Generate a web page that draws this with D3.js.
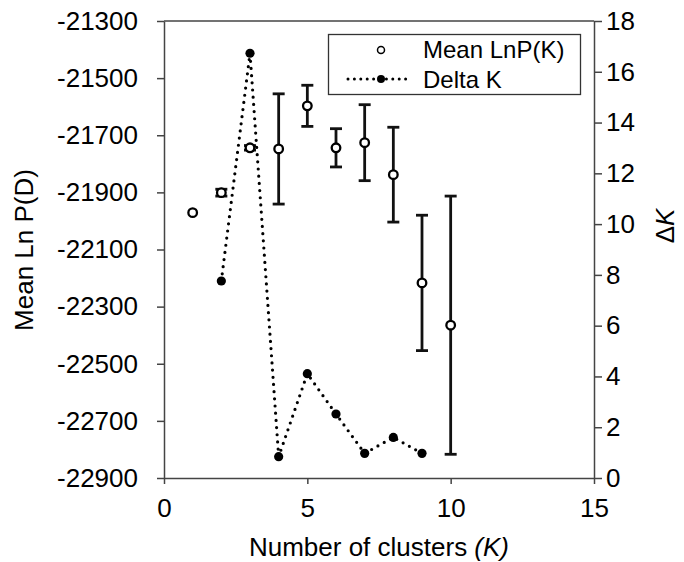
<!DOCTYPE html>
<html>
<head>
<meta charset="utf-8">
<script src="https://cdn.jsdelivr.net/npm/d3@7"></script>
<style>
  body { margin: 0; background: #fff; }
  svg { font-family: "Liberation Sans", Arial, sans-serif; }
</style>
</head>
<body>
<svg id="chart" width="684" height="562"></svg>
<script>
// values
const clusters = [1, 2, 3, 4, 5, 6, 7, 8, 9, 10];
const meanLnP = [-21971, -21901, -21744, -21748, -21597, -21744, -21726, -21838, -22217, -22365];
const sdLnP = [0, 12, 8, 193, 72, 67, 133, 166, 237, 452];
const deltaK_clusters = [2, 3, 4, 5, 6, 7, 8, 9];
const deltaK = [7.76, 16.73, 0.84, 4.11, 2.52, 0.97, 1.6, 0.97];

const xTicks = [0, 5, 10, 15];
const leftTicks = [-21300, -21500, -21700, -21900, -22100, -22300, -22500, -22700, -22900];
const rightTicks = [0, 2, 4, 6, 8, 10, 12, 14, 16, 18];

class ClusterChart {
  constructor(_config) {
    this.config = {
      parentElement: _config.parentElement,
      margin: { top: 21, right: 90, bottom: 84, left: 164 },
      width: 684,
      height: 562
    };
    this.initVis();
  }

  initVis() {
    let vis = this;
    const m = vis.config.margin;
    vis.svg = d3.select(vis.config.parentElement);
    vis.innerW = vis.config.width - m.left - m.right;   // 430
    vis.innerH = vis.config.height - m.top - m.bottom;  // 457

    vis.x = d3.scaleLinear().domain([0, 15]).range([0, vis.innerW]);
    vis.yL = d3.scaleLinear().domain([-22900, -21300]).range([vis.innerH, 0]);
    vis.yR = d3.scaleLinear().domain([0, 18]).range([vis.innerH, 0]);

    vis.g = vis.svg.append('g').attr('transform', `translate(${m.left},${m.top})`);

    // frame top line
    vis.g.append('line')
      .attr('x1', 0).attr('x2', vis.innerW)
      .attr('y1', 0).attr('y2', 0)
      .attr('stroke', '#444').attr('stroke-width', 1.5);

    // axes
    vis.xAxisG = vis.g.append('g').attr('transform', `translate(0,${vis.innerH})`)
      .call(d3.axisBottom(vis.x).tickValues(xTicks).tickSize(6).tickSizeOuter(0).tickPadding(8));
    vis.yLAxisG = vis.g.append('g')
      .call(d3.axisLeft(vis.yL).tickValues(leftTicks).tickSize(7).tickSizeOuter(0).tickPadding(19)
        .tickFormat(d => String(d)));   // plain hyphen, not the unicode minus
    vis.yRAxisG = vis.g.append('g').attr('transform', `translate(${vis.innerW},0)`)
      .call(d3.axisRight(vis.yR).tickValues(rightTicks).tickSize(8).tickSizeOuter(0).tickPadding(4));

    vis.g.selectAll('.domain, .tick line')
      .attr('stroke', '#444').attr('stroke-width', 1.5);
    vis.g.selectAll('.tick text')
      .attr('font-size', 26).attr('fill', '#000')
      .style('font-family', '"Liberation Sans", Arial, sans-serif');
    vis.xAxisG.selectAll('.tick text').attr('dy', '0.95em');

    // axis titles
    const xt = vis.svg.append('text')
      .attr('x', m.left + vis.innerW / 2).attr('y', 556)
      .attr('text-anchor', 'middle').attr('font-size', 26);
    xt.append('tspan').text('Number of clusters ');
    xt.append('tspan').attr('font-style', 'italic').text('(K)');

    vis.svg.append('text')
      .attr('transform', 'translate(24,250) rotate(-90)')
      .attr('text-anchor', 'middle').attr('dy', '0.35em')
      .attr('font-size', 26)
      .text('Mean Ln P(D)');

    const rt = vis.svg.append('text')
      .attr('transform', 'translate(665,226) rotate(-90)')
      .attr('text-anchor', 'middle').attr('dy', '0.35em')
      .attr('font-size', 26);
    rt.append('tspan').text('\u0394');
    rt.append('tspan').attr('font-style', 'italic').text('K');

    vis.renderVis();
    vis.renderLegend();
  }

  renderVis() {
    let vis = this;
    const meanData = clusters.map((k, i) => ({ k: k, mean: meanLnP[i], sd: sdLnP[i] }));
    const deltaData = deltaK_clusters.map((k, i) => ({ k: k, dk: deltaK[i] }));

    // error bars
    const bars = vis.g.append('g').attr('stroke', '#111').attr('stroke-width', 2.8)
      .selectAll('g').data(meanData.filter(d => d.sd > 0)).join('g');
    bars.append('line')
      .attr('x1', d => vis.x(d.k)).attr('x2', d => vis.x(d.k))
      .attr('y1', d => vis.yL(d.mean + d.sd)).attr('y2', d => vis.yL(d.mean - d.sd));
    bars.append('line')
      .attr('x1', d => vis.x(d.k) - 6).attr('x2', d => vis.x(d.k) + 6)
      .attr('y1', d => vis.yL(d.mean + d.sd)).attr('y2', d => vis.yL(d.mean + d.sd));
    bars.append('line')
      .attr('x1', d => vis.x(d.k) - 6).attr('x2', d => vis.x(d.k) + 6)
      .attr('y1', d => vis.yL(d.mean - d.sd)).attr('y2', d => vis.yL(d.mean - d.sd));

    // open circles
    vis.g.append('g').selectAll('circle').data(meanData).join('circle')
      .attr('cx', d => vis.x(d.k)).attr('cy', d => vis.yL(d.mean))
      .attr('r', 4.3)
      .attr('fill', '#fff').attr('stroke', '#000').attr('stroke-width', 2.3);

    // delta K dotted line
    const line = d3.line().x(d => vis.x(d.k)).y(d => vis.yR(d.dk));
    vis.g.append('path').datum(deltaData)
      .attr('d', line)
      .attr('fill', 'none').attr('stroke', '#000')
      .attr('stroke-width', 3.2).attr('stroke-linecap', 'round')
      .attr('stroke-dasharray', '0,7.2');

    vis.g.append('g').selectAll('circle').data(deltaData).join('circle')
      .attr('cx', d => vis.x(d.k)).attr('cy', d => vis.yR(d.dk))
      .attr('r', 4.6).attr('fill', '#000');
  }

  renderLegend() {
    let vis = this;
    const lg = vis.svg.append('g');
    lg.append('rect')
      .attr('x', 328.5).attr('y', 34.5).attr('width', 252).attr('height', 60)
      .attr('fill', '#fff').attr('stroke', '#333').attr('stroke-width', 1.3);

    lg.append('circle').attr('cx', 381).attr('cy', 50).attr('r', 3.5)
      .attr('fill', '#fff').attr('stroke', '#000').attr('stroke-width', 1.5);
    lg.append('text').attr('x', 423).attr('y', 58).attr('font-size', 24).text('Mean LnP(K)');

    lg.append('line').attr('x1', 348).attr('x2', 412).attr('y1', 79).attr('y2', 79)
      .attr('stroke', '#000').attr('stroke-width', 3).attr('stroke-linecap', 'round')
      .attr('stroke-dasharray', '0,6.4');
    lg.append('circle').attr('cx', 381).attr('cy', 79).attr('r', 4).attr('fill', '#000');
    lg.append('text').attr('x', 423).attr('y', 88).attr('font-size', 24).text('Delta K');
  }
}

const chart = new ClusterChart({ parentElement: '#chart' });
</script>
</body>
</html>
